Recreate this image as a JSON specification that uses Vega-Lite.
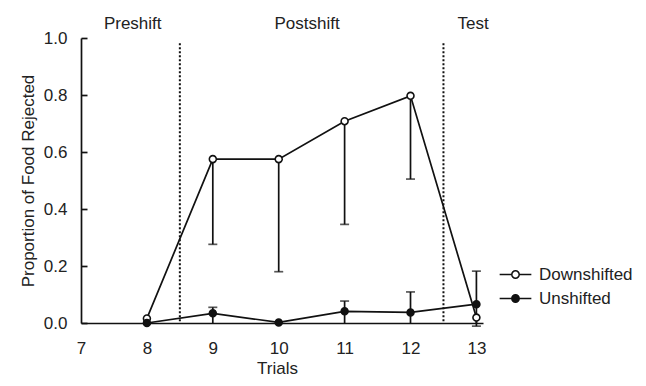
{
  "$schema": "https://vega.github.io/schema/vega-lite/v6.json",
  "width": 402,
  "height": 285,
  "autosize": "none",
  "padding": {"left": 81, "top": 38, "right": 163, "bottom": 63},
  "background": "white",
  "config": {
    "view": {"stroke": null},
    "font": "Liberation Sans",
    "text": {"font": "Liberation Sans"}
  },
  "datasets": {
    "main": [
      {"trial": 8, "group": "Downshifted", "value": 0.016},
      {"trial": 9, "group": "Downshifted", "value": 0.575, "lo": 0.276, "hi": 0.575, "cap": 0.276},
      {"trial": 10, "group": "Downshifted", "value": 0.575, "lo": 0.18, "hi": 0.575, "cap": 0.18},
      {"trial": 11, "group": "Downshifted", "value": 0.708, "lo": 0.346, "hi": 0.708, "cap": 0.346},
      {"trial": 12, "group": "Downshifted", "value": 0.797, "lo": 0.505, "hi": 0.797, "cap": 0.505},
      {"trial": 13, "group": "Downshifted", "value": 0.019, "lo": -0.011, "hi": 0.019, "cap": -0.011},
      {"trial": 8, "group": "Unshifted", "value": 0.0},
      {"trial": 9, "group": "Unshifted", "value": 0.034, "lo": 0, "hi": 0.055, "cap": 0.055},
      {"trial": 10, "group": "Unshifted", "value": 0.002},
      {"trial": 11, "group": "Unshifted", "value": 0.041, "lo": 0, "hi": 0.077, "cap": 0.077},
      {"trial": 12, "group": "Unshifted", "value": 0.037, "lo": 0, "hi": 0.109, "cap": 0.109},
      {"trial": 13, "group": "Unshifted", "value": 0.066, "lo": 0, "hi": 0.182, "cap": 0.182}
    ],
    "phases": [
      {"label": "Preshift", "trial": 7.785},
      {"label": "Postshift", "trial": 10.43},
      {"label": "Test", "trial": 12.95}
    ],
    "bounds": [{"trial": 8.5}, {"trial": 12.5}]
  },
  "layer": [
    {
      "data": {"name": "main"},
      "mark": {"type": "line", "color": "#111", "strokeWidth": 1.7},
      "encoding": {
        "detail": {"field": "group"},
        "x": {
          "field": "trial", "type": "quantitative",
          "scale": {"domain": [7, 13.1], "nice": false, "zero": false},
          "axis": {
            "values": [7, 8, 9, 10, 11, 12, 13],
            "format": "d",
            "title": "Trials",
            "ticks": false,
            "grid": false,
            "domainColor": "#111",
            "domainWidth": 1.7,
            "labelFontSize": 17,
            "labelColor": "#222",
            "labelPadding": 17,
            "labelFlush": false,
            "titleFontSize": 17,
            "titleFontWeight": "normal",
            "titleColor": "#222",
            "titlePadding": 4,
            "titleX": 196
          }
        },
        "y": {
          "field": "value", "type": "quantitative",
          "scale": {"domain": [0, 1], "nice": false},
          "axis": {
            "values": [0, 0.2, 0.4, 0.6, 0.8, 1.0],
            "format": ".1f",
            "title": "Proportion of Food Rejected",
            "grid": false,
            "domainColor": "#111",
            "domainWidth": 1.7,
            "tickColor": "#111",
            "tickWidth": 1.7,
            "tickSize": -6,
            "labelFontSize": 17,
            "labelColor": "#222",
            "labelPadding": 20,
            "labelFlush": false,
            "titleFontSize": 17,
            "titleFontWeight": "normal",
            "titleColor": "#222",
            "titlePadding": 6
          }
        }
      }
    },
    {
      "data": {"name": "bounds"},
      "mark": {"type": "rule", "strokeDash": [2, 2], "strokeWidth": 2, "color": "#111"},
      "encoding": {
        "x": {"field": "trial", "type": "quantitative"},
        "y": {"datum": 0.982, "type": "quantitative"},
        "y2": {"datum": 0}
      }
    },
    {
      "data": {"name": "phases"},
      "mark": {"type": "text", "baseline": "alphabetic", "align": "center", "fontSize": 17, "color": "#222"},
      "encoding": {
        "x": {"field": "trial", "type": "quantitative"},
        "y": {"datum": 1.033, "type": "quantitative"},
        "text": {"field": "label"}
      }
    },
    {
      "data": {"name": "main"},
      "transform": [{"filter": "isValid(datum.lo)"}],
      "mark": {"type": "rule", "color": "#111", "strokeWidth": 1.7},
      "encoding": {
        "x": {"field": "trial", "type": "quantitative"},
        "y": {"field": "lo", "type": "quantitative"},
        "y2": {"field": "hi"}
      }
    },
    {
      "data": {"name": "main"},
      "transform": [{"filter": "isValid(datum.cap)"}],
      "mark": {"type": "tick", "orient": "horizontal", "color": "#111", "size": 9, "thickness": 1.7},
      "encoding": {
        "x": {"field": "trial", "type": "quantitative"},
        "y": {"field": "cap", "type": "quantitative"}
      }
    },
    {
      "data": {"name": "main"},
      "mark": {"type": "point", "shape": "circle", "filled": true, "size": 48, "stroke": "#111", "strokeWidth": 1.6, "opacity": 1},
      "encoding": {
        "x": {"field": "trial", "type": "quantitative"},
        "y": {"field": "value", "type": "quantitative"},
        "fill": {
          "field": "group", "type": "nominal",
          "scale": {"domain": ["Downshifted", "Unshifted"], "range": ["white", "#111"]},
          "legend": {
            "orient": "none",
            "legendX": 419,
            "legendY": 221,
            "title": null,
            "padding": 0,
            "symbolType": "M-1.1,0H-0.257M0.257,0H1.1M-0.257,0A0.257,0.257 0 1,0 0.257,0A0.257,0.257 0 1,0 -0.257,0Z",
            "symbolSize": 830,
            "symbolStrokeColor": "#111",
            "symbolStrokeWidth": 1.5,
            "symbolOpacity": 1,
            "labelFontSize": 17,
            "labelColor": "#222",
            "labelOffset": 8,
            "rowPadding": -1
          }
        }
      }
    }
  ]
}
